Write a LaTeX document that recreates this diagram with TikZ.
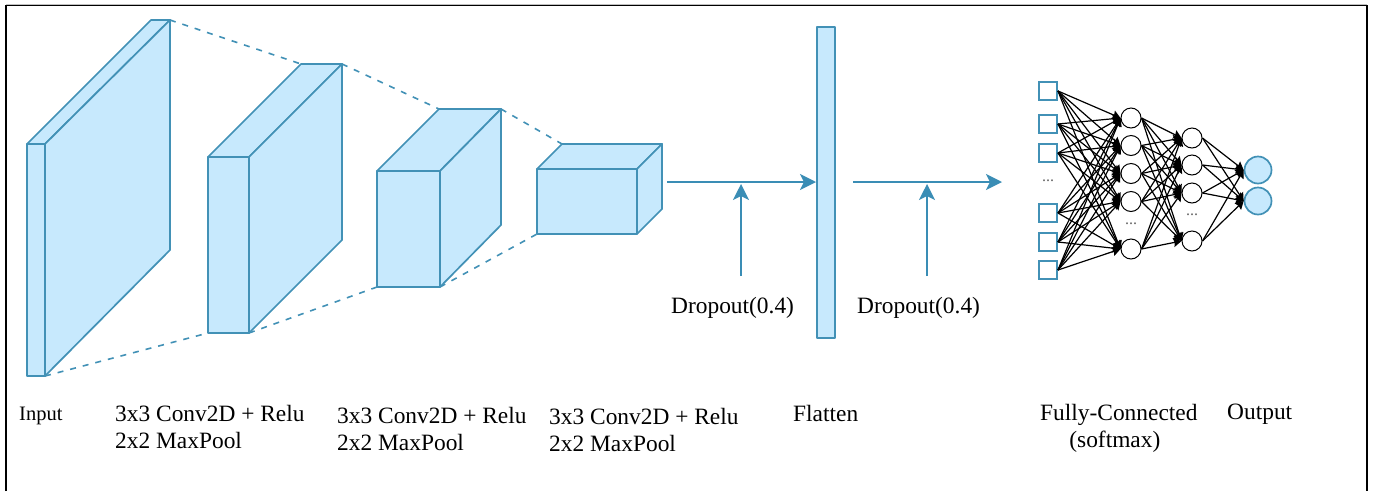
\documentclass[tikz,border=0pt]{standalone}
\usepackage{fontspec}
\setmainfont{Liberation Serif}
\usetikzlibrary{arrows.meta}
\definecolor{blockfill}{HTML}{C7E9FD}
\definecolor{blockline}{HTML}{4291B6}
\definecolor{flowline}{HTML}{3A8DB5}
\tikzset{
  blockface/.style={draw=blockline, fill=blockfill, line width=1.7pt, line join=round},
  taper/.style={blockline, line width=1.6pt, dash pattern=on 6pt off 7pt},
  flow/.style={flowline, line width=1.7pt, -{Stealth[length=16pt,width=16pt,inset=4pt]}},
  caption/.style={font=\fontsize{23.4}{27}\selectfont, anchor=base west, align=left, inner sep=0pt},
  inbox/.style={draw=blockline, fill=white, line width=1.9pt, minimum size=18pt, inner sep=0pt},
  hidden/.style={draw=black, fill=white, line width=1pt, circle, minimum size=20pt, inner sep=0pt},
  outcircle/.style={draw=blockline, fill=blockfill, line width=1.7pt, circle, minimum size=27pt, inner sep=0pt},
  netedge/.style={black, line width=1.2pt, -{Stealth[length=8pt,width=9pt,inset=1pt]}},
  netdots/.style={font=\fontsize{16}{16}\selectfont, inner sep=0pt, black!60}
}
\begin{document}
\begin{tikzpicture}[x=1pt,y=-1pt]
\useasboundingbox (0,0) rectangle (1376,491);
\draw[black, line width=1.4pt] (6,491) -- (6,5.5) -- (1367,5.5) -- (1367,491);
\draw[black!25, line width=0.8pt] (6,4.4) -- (1367,4.4);
% input block
\coordinate (inTL) at (27,144);
\coordinate (inBR) at (45,376);
\coordinate (inTR) at (45,144);
\coordinate (inBackL) at (151,20);
\coordinate (inBack) at (170,20);
\coordinate (inBackB) at (170,250);
\draw[blockface] (inTL) -- (inBackL) -- (inBack) -- (inTR) -- cycle;
\draw[blockface] (inTR) -- (inBack) -- (inBackB) -- (inBR) -- cycle;
\draw[blockface] (inTL) rectangle (inBR);
% second block
\coordinate (aTL) at (208,157);
\coordinate (aTR) at (249,157);
\coordinate (aBL) at (208,333);
\coordinate (aBR) at (249,333);
\coordinate (aBackL) at (301,64);
\coordinate (aBack) at (342,64);
\coordinate (aBackB) at (342,240);
\draw[blockface] (aTL) -- (aBackL) -- (aBack) -- (aTR) -- cycle;
\draw[blockface] (aTR) -- (aBack) -- (aBackB) -- (aBR) -- cycle;
\draw[blockface] (aTL) rectangle (aBR);
% third block
\coordinate (bTL) at (377,171);
\coordinate (bTR) at (440,171);
\coordinate (bBL) at (377,287);
\coordinate (bBR) at (440,287);
\coordinate (bBackL) at (439,109);
\coordinate (bBack) at (501,109);
\coordinate (bBackB) at (501,225);
\draw[blockface] (bTL) -- (bBackL) -- (bBack) -- (bTR) -- cycle;
\draw[blockface] (bTR) -- (bBack) -- (bBackB) -- (bBR) -- cycle;
\draw[blockface] (bTL) rectangle (bBR);
% fourth block
\coordinate (cTL) at (537,169);
\coordinate (cTR) at (637,169);
\coordinate (cBL) at (537,234);
\coordinate (cBR) at (637,234);
\coordinate (cBackL) at (562,144);
\coordinate (cBack) at (662,144);
\coordinate (cBackB) at (662,209);
\draw[blockface] (cTL) -- (cBackL) -- (cBack) -- (cTR) -- cycle;
\draw[blockface] (cTR) -- (cBack) -- (cBackB) -- (cBR) -- cycle;
\draw[blockface] (cTL) rectangle (cBR);
% dashed tapers
\draw[taper] (inBack) -- (aBackL);
\draw[taper] (aBack) -- (bBackL);
\draw[taper] (bBack) -- (cBackL);
\draw[taper] (inBR) -- (aBL);
\draw[taper] (aBR) -- (bBL);
\draw[taper] (bBR) -- (cBL);
% flatten bar and arrows
\node[blockface, minimum width=18pt, minimum height=311pt, inner sep=0pt, anchor=north west] (flatbar) at (816,26) {};
\coordinate (flowA) at (667,182);
\coordinate (flowB) at (853,182);
\coordinate (flowEnd) at (1002,182);
\coordinate (tipA) at (741,184);
\coordinate (tipB) at (927,184);
\node[caption] (dropA) at (671,313) {Dropout(0.4)};
\node[caption] (dropB) at (857,313) {Dropout(0.4)};
\draw[flow] (flowA) -- (flowA -| flatbar.west);
\draw[flow] (flowB) -- (flowEnd);
\draw[flow] (741,276) -- (tipA);
\draw[flow] (927,276) -- (tipB);
% network
\foreach \n/\y in {1/91,2/124,3/153,4/213,5/242,6/270}
  \node[inbox] (in\n) at (1048,\y) {};
\foreach \n/\y in {1/118,2/145.5,3/173.5,4/201.5,5/249}
  \node[hidden] (ha\n) at (1131,\y) {};
\foreach \n/\y in {1/138,2/165,3/193,4/241}
  \node[hidden] (hb\n) at (1192,\y) {};
\foreach \n/\y in {1/170,2/201}
  \node[outcircle] (out\n) at (1258,\y) {};
\foreach \a in {1,...,6}
  \foreach \b in {1,...,5}
    \draw[netedge] (in\a.east) -- (ha\b.west);
\foreach \a in {1,...,5}
  \foreach \b in {1,...,4}
    \draw[netedge] (ha\a.east) -- (hb\b.west);
\foreach \a in {1,...,4}
  \foreach \b in {1,2}
    \draw[netedge] (hb\a.east) -- (out\b.west);
\node[netdots] (dotsin) at (1048,181) {...};
\node[netdots] (dotsa) at (1131,224) {...};
\node[netdots] (dotsb) at (1192,215) {...};
% captions
\node[caption, font=\fontsize{20.5}{27}\selectfont] (inputlab) at (19,420) {Input};
\node[caption] (capa) at (115,448) {3x3 Conv2D + Relu\\2x2 MaxPool};
\node[caption] (capb) at (337,450) {3x3 Conv2D + Relu\\2x2 MaxPool};
\node[caption] (capc) at (549,451) {3x3 Conv2D + Relu\\2x2 MaxPool};
\node[caption] (flatlab) at (793,421) {Flatten};
\node[caption, align=center] (fclab) at (1040,447) {Fully-Connected\\(softmax)\hspace*{8pt}};
\node[caption] (outlab) at (1227,419) {Output};
\end{tikzpicture}
\end{document}
